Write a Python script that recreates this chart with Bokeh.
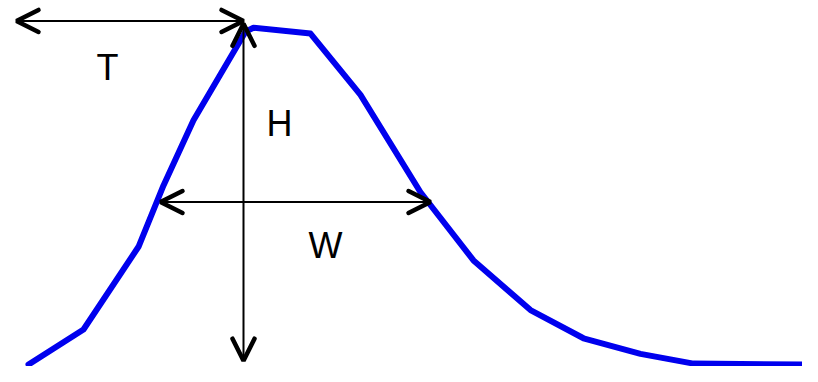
from bokeh.plotting import figure
from bokeh.models import Range1d, Arrow, OpenHead, ColumnDataSource
from bokeh.core.properties import value
from bokeh.embed import file_html
from bokeh.resources import INLINE

# Curve samples (time, signal)
time = [28, 83, 138, 163, 193, 245, 253, 310, 360, 420, 473, 530, 583, 640, 693, 808]
signal = [8, 44, 129, 192, 259, 350, 354, 348, 285, 185, 115, 64, 35, 19, 9, 8]

# Annotation geometry (in the same data units)
t_start, t_peak = 16, 243
t_level = 361
h_top, h_bottom = 358, 12
w_left, w_right = 160, 430
w_level = 175

label_text = ["T", "H", "W"]
label_x = [107, 279, 325]
label_y = [313, 256, 130]

p = figure(width=802, height=366, output_backend="svg", toolbar_location=None,
           x_range=Range1d(0, 802), y_range=Range1d(6, 382),
           x_axis_location=None, y_axis_location=None, min_border=0)
p.outline_line_color = None
p.grid.visible = False
p.background_fill_color = "white"

p.line(time, signal, line_color="#0000ee", line_width=6, line_join="round", line_cap="round")

def head():
    return OpenHead(size=22, line_width=4.5, line_color="black", line_cap="round")

p.add_layout(Arrow(start=head(), end=head(), x_start=t_start, y_start=t_level,
                   x_end=t_peak, y_end=t_level, line_width=2, line_color="black"))
p.add_layout(Arrow(start=head(), end=head(), x_start=t_peak, y_start=h_top,
                   x_end=t_peak, y_end=h_bottom, line_width=2, line_color="black"))
p.add_layout(Arrow(start=head(), end=head(), x_start=w_left, y_start=w_level,
                   x_end=w_right, y_end=w_level, line_width=2, line_color="black"))

src = ColumnDataSource(dict(x=label_x, y=label_y, t=label_text))
p.text(x="x", y="y", text="t", source=src, text_font=value("Liberation Sans"),
       text_font_size="36px", text_align="center", text_baseline="alphabetic",
       text_color="black")

open("out.html", "w").write(file_html(p, INLINE))
